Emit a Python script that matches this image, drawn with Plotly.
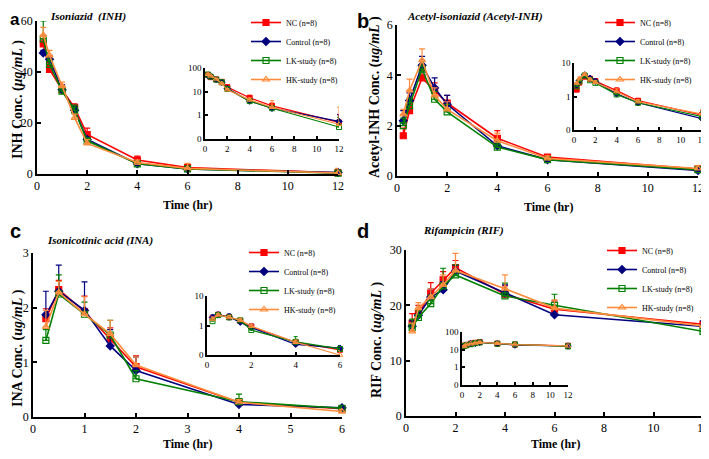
import plotly.graph_objects as go

# page is 709x459; the browser body has an 8px margin, so the figure is 701x451
OFF = 8
W, H = 709 - OFF, 459 - OFF

# ---------------- data ----------------
series_names = ["NC (n=8)", "Control (n=8)", "LK-study (n=8)", "HK-study (n=8)"]

# Panel a: Isoniazid (INH)
time_a = [0.25, 0.5, 1, 1.5, 2, 4, 6, 12]
inh_nc = [51, 41, 33, 26, 15.5, 5.5, 2.5, 0.5]
inh_ctrl = [47.5, 45, 33, 25, 13.5, 4.0, 2.0, 0.55]
inh_lk = [53, 43, 32.5, 25, 13, 4.0, 2.0, 0.32]
inh_hk = [54.5, 46.5, 34.5, 22, 12, 4.5, 2.2, 0.42]
inh_nc_err = [2, 1.5, 2, 1.5, 2.5, 1.5, 0.8, 0.6]
inh_ctrl_err = [1, 1.5, 2, 1.5, 1, 0.8, 0.5, 0.5]
inh_lk_err = [7, 2, 2, 2, 1, 0.8, 0.5, 0.5]
inh_hk_err = [3, 2, 1.5, 1.5, 1.5, 1, 2, 1.8]

# Panel b: Acetyl-isoniazid (Acetyl-INH)
time_b = [0.25, 0.5, 1, 1.5, 2, 4, 6, 12]
ac_nc = [1.6, 2.6, 3.9, 3.4, 2.9, 1.5, 0.75, 0.28]
ac_ctrl = [2.2, 3.0, 4.4, 3.5, 2.85, 1.2, 0.65, 0.22]
ac_lk = [2.0, 2.8, 4.25, 3.05, 2.55, 1.15, 0.65, 0.25]
ac_hk = [2.45, 3.4, 4.6, 3.2, 2.65, 1.4, 0.7, 0.3]
ac_nc_err = [0.3, 0.25, 0.3, 0.3, 0.3, 0.3, 0.1, 0.1]
ac_ctrl_err = [0.4, 0.3, 0.35, 0.4, 0.35, 0.2, 0.1, 0.1]
ac_lk_err = [0.3, 0.3, 0.3, 0.3, 0.3, 0.2, 0.1, 0.1]
ac_hk_err = [0.2, 0.45, 0.45, 0.3, 0.3, 0.3, 0.1, 0.1]

# Panel c: Isonicotinic acid (INA)
time_c = [0.25, 0.5, 1, 1.5, 2, 4, 6]
ina_nc = [1.8, 2.33, 1.93, 1.43, 0.92, 0.27, 0.15]
ina_ctrl = [1.87, 2.3, 1.95, 1.3, 0.85, 0.23, 0.17]
ina_lk = [1.4, 2.25, 1.88, 1.5, 0.7, 0.28, 0.16]
ina_hk = [1.65, 2.28, 1.88, 1.52, 0.95, 0.27, 0.1]
ina_nc_err = [0.18, 0.17, 0.28, 0.2, 0.2, 0.05, 0.04]
ina_ctrl_err = [0.43, 0.48, 0.52, 0.3, 0.25, 0.05, 0.04]
ina_lk_err = [0.2, 0.35, 0.22, 0.27, 0.15, 0.14, 0.04]
ina_hk_err = [0.3, 0.2, 0.32, 0.25, 0.15, 0.05, 0.04]

# Panel d: Rifampicin (RIF)
time_d = [0.25, 0.5, 1, 1.5, 2, 4, 6, 12]
rif_nc = [16.8, 18.5, 22.2, 24.6, 26.8, 22.0, 19.3, 16.6]
rif_ctrl = [16.2, 18.2, 21.5, 22.8, 26.2, 22.2, 18.3, 16.2]
rif_lk = [16.0, 17.8, 20.3, 23.5, 25.5, 21.7, 20.0, 15.3]
rif_hk = [15.3, 19.5, 21.5, 23.7, 26.3, 23.0, 19.5, 16.3]
rif_nc_err = [1.7, 1.5, 1.9, 1.5, 1.3, 1.5, 1.5, 1.2]
rif_ctrl_err = [1.0, 1.0, 1.5, 1.5, 1.0, 1.5, 1.0, 1.0]
rif_lk_err = [1.5, 1.2, 1.5, 3.2, 1.8, 2.3, 2.0, 1.0]
rif_hk_err = [1.5, 1.0, 1.5, 1.8, 3.1, 2.5, 1.5, 1.5]

main_yticks_a = [0, 20, 40, 60]
main_yticks_b = [0, 2, 4, 6]
main_yticks_c = [0, 1, 2, 3]
main_yticks_d = [0, 10, 20, 30]
log_tickvals = [0.1, 1, 10, 100]
log_ticktext = ["0", "1", "10", "100"]

# ---------------- styles ----------------
colors = ["#ff0000", "#00007f", "#008000", "#ff8c3c"]
symbols = ["square", "diamond", "square-open", "triangle-up-open"]
SERIF = "Liberation Serif, Times New Roman, serif"
SANS = "Liberation Sans, Arial, sans-serif"


def fx(p):
    return (p - OFF) / W


def fy(p):
    return 1 - (p - OFF) / H


panels = [
    dict(t=time_a, ys=[inh_nc, inh_ctrl, inh_lk, inh_hk],
         es=[inh_nc_err, inh_ctrl_err, inh_lk_err, inh_hk_err],
         main=(37, 338, 21, 174), yr=[0, 60], yt=main_yticks_a, xr=[0, 12], xt=list(range(0, 13, 2)),
         inset=(205, 339, 68, 139), ilr=[-1, 2], ixt=list(range(0, 13, 2)),
         legend=(246, 8)),
    dict(t=time_b, ys=[ac_nc, ac_ctrl, ac_lk, ac_hk],
         es=[ac_nc_err, ac_ctrl_err, ac_lk_err, ac_hk_err],
         main=(397, 698, 25, 176), yr=[0, 6], yt=main_yticks_b, xr=[0, 12], xt=list(range(0, 13, 2)),
         inset=(574, 702, 63, 130), ilr=[-1, 1], ixt=list(range(0, 13, 2)),
         legend=(600, 8)),
    dict(t=time_c, ys=[ina_nc, ina_ctrl, ina_lk, ina_hk],
         es=[ina_nc_err, ina_ctrl_err, ina_lk_err, ina_hk_err],
         main=(33, 342, 253, 417), yr=[0, 3], yt=main_yticks_c, xr=[0, 6], xt=list(range(0, 7)),
         inset=(207, 340, 296, 355), ilr=[-1, 1], ixt=[0, 2, 4, 6],
         legend=(244, 238)),
    dict(t=time_d, ys=[rif_nc, rif_ctrl, rif_lk, rif_hk],
         es=[rif_nc_err, rif_ctrl_err, rif_lk_err, rif_hk_err],
         main=(406, 703, 250, 416), yr=[0, 30], yt=main_yticks_d, xr=[0, 12], xt=list(range(0, 13, 2)),
         inset=(462, 568, 332, 385), ilr=[-1, 2], ixt=list(range(0, 13, 2)),
         legend=(602, 236)),
]

fig = go.Figure()
layout = dict(width=W, height=H, margin=dict(l=0, r=0, t=0, b=0, autoexpand=False),
              plot_bgcolor="white", paper_bgcolor="white", showlegend=True)

axis_common = dict(showline=True, linecolor="black", linewidth=1.8, ticks="inside",
                   tickcolor="black", tickwidth=1.5, showgrid=False, zeroline=False,
                   mirror=False, fixedrange=True)

ax = 0
for pi, p in enumerate(panels):
    leg = "legend" if pi == 0 else f"legend{pi + 1}"
    # main axes
    ax += 1
    xa, ya = f"xaxis{'' if ax == 1 else ax}", f"yaxis{'' if ax == 1 else ax}"
    xref, yref = f"x{'' if ax == 1 else ax}", f"y{'' if ax == 1 else ax}"
    x0, x1, y0, y1 = p["main"]
    layout[xa] = dict(axis_common, domain=[fx(x0), fx(x1)], range=p["xr"], tickvals=p["xt"],
                      anchor=yref, ticklen=4,
                      tickfont=dict(family=SERIF, size=12, color="black"))
    layout[ya] = dict(axis_common, domain=[fy(y1), fy(y0)], range=p["yr"], tickvals=p["yt"],
                      anchor=xref, ticklen=4,
                      tickfont=dict(family=SERIF, size=12, color="black"))
    for si in range(4):
        fig.add_trace(go.Scatter(
            x=p["t"], y=p["ys"][si], name=series_names[si], mode="lines+markers",
            xaxis=xref, yaxis=yref, legend=leg, cliponaxis=False,
            line=dict(color=colors[si], width=1.6),
            marker=dict(symbol=symbols[si], size=6, color=colors[si],
                        line=dict(color=colors[si], width=1.2)),
            error_y=dict(type="data", symmetric=False, array=p["es"][si],
                         arrayminus=[0] * len(p["t"]), color=colors[si], thickness=1.2, width=3),
        ))
    lx, ly = p["legend"]
    layout[leg] = dict(x=fx(lx), y=fy(ly), xanchor="left", yanchor="top",
                       bgcolor="rgba(0,0,0,0)", font=dict(family=SERIF, size=8, color="black"),
                       itemwidth=30, tracegroupgap=0, borderwidth=0)
    # inset axes
    ax += 1
    xa, ya = f"xaxis{ax}", f"yaxis{ax}"
    xref, yref = f"x{ax}", f"y{ax}"
    x0, x1, y0, y1 = p["inset"]
    layout[xa] = dict(axis_common, domain=[fx(x0), fx(x1)], range=[0, p["xr"][1]], tickvals=p["ixt"],
                      anchor=yref, ticklen=3, linewidth=1.5,
                      tickfont=dict(family=SERIF, size=9, color="black"))
    layout[ya] = dict(axis_common, domain=[fy(y1), fy(y0)], type="log", range=p["ilr"],
                      tickvals=log_tickvals, ticktext=log_ticktext, anchor=xref, ticklen=3,
                      linewidth=1.5, tickfont=dict(family=SERIF, size=9, color="black"))
    for si in range(4):
        fig.add_trace(go.Scatter(
            x=p["t"], y=p["ys"][si], name=series_names[si], mode="lines+markers",
            xaxis=xref, yaxis=yref, showlegend=False, cliponaxis=False,
            line=dict(color=colors[si], width=1.2),
            marker=dict(symbol=symbols[si], size=5, color=colors[si],
                        line=dict(color=colors[si], width=1)),
            error_y=dict(type="data", symmetric=False, array=p["es"][si],
                         arrayminus=[0] * len(p["t"]), color=colors[si], thickness=1, width=2),
        ))

annotations = []


def ann(text, x, y, size, family=SERIF, angle=0, xanchor="center", yanchor="middle"):
    annotations.append(dict(text=text, x=fx(x), y=fy(y), xref="paper", yref="paper",
                            showarrow=False, textangle=angle, xanchor=xanchor, yanchor=yanchor,
                            font=dict(family=family, size=size, color="black")))


# panel letters
ann("<b>a</b>", 8, 8, 17, SANS, xanchor="left", yanchor="top")
ann("<b>b</b>", 355, 8, 20, SANS, xanchor="left", yanchor="top")
ann("<b>c</b>", 8, 218, 20, SANS, xanchor="left", yanchor="top")
ann("<b>d</b>", 355, 218, 20, SANS, xanchor="left", yanchor="top")
# panel titles
ann("<b><i>Isoniazid  (INH)</i></b>", 88, 8, 11, yanchor="top")
ann("<b><i>Acetyl-isoniazid (Acetyl-INH)</i></b>", 475, 8, 11, yanchor="top")
ann("<b><i>Isonicotinic acid (INA)</i></b>", 100, 240, 11)
ann("<b><i>Rifampicin (RIF)</i></b>", 463, 231, 11)
# x titles
ann("<b>Time (hr)</b>", 187, 205, 12)
ann("<b>Time (hr)</b>", 548, 207, 12)
ann("<b>Time (hr)</b>", 187, 444, 12)
ann("<b>Time (hr)</b>", 555, 444, 12)
# y titles
ann("<b>INH Conc. (<i>μg/mL</i> )</b>", 8, 100, 14, angle=-90, xanchor="left")
ann("<b>Acetyl-INH Conc. (<i>ug/mL</i> )</b>", 375, 97, 14, angle=-90)
ann("<b>INA Conc. (<i>ug/mL</i> )</b>", 8, 348, 14, angle=-90, xanchor="left")
ann("<b>RIF Conc. (<i>ug/mL</i> )</b>", 377, 340, 14, angle=-90)

layout["annotations"] = annotations
fig.update_layout(**layout)
fig.write_html("out.html")
